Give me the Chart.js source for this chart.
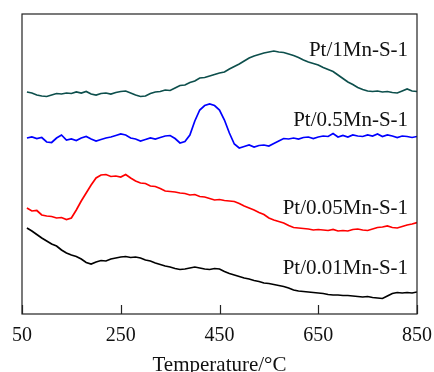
<!DOCTYPE html>
<html>
<head>
<meta charset="utf-8">
<script src="https://cdn.jsdelivr.net/npm/chart.js@4.4.0/dist/chart.umd.min.js"></script>
<style>
    html, body { margin: 0; padding: 0; background: #fff; }
    #wrap { width: 434px; height: 372px; }
</style>
</head>
<body>
<div id="wrap"><canvas id="tprChart" width="434" height="372"></canvas></div>
<script>
const temps = [60, 70, 80, 90, 100, 110, 120, 130, 140, 150, 160, 170, 180, 190, 200, 210, 220, 230, 240, 250,
    260, 270, 280, 290, 300, 310, 320, 330, 340, 350, 360, 370, 380, 390, 400, 410, 420, 430, 440, 450,
    460, 470, 480, 490, 500, 510, 520, 530, 540, 550, 560, 570, 580, 590, 600, 610, 620, 630, 640, 650,
    660, 670, 680, 690, 700, 710, 720, 730, 740, 750, 760, 770, 780, 790, 800, 810, 820, 830, 840, 850];

const xTicks = [50, 250, 450, 650, 850];

const labels = ['Pt/1Mn-S-1', 'Pt/0.5Mn-S-1', 'Pt/0.05Mn-S-1', 'Pt/0.01Mn-S-1'];

// signal in arbitrary units (offset curves)
const mn1 = [222, 221, 219, 218, 217.5, 219, 220.5, 220, 221, 220.5, 222, 221, 222.5, 220, 219, 220.5, 221, 220, 221.5, 222.5,
    223, 221, 219, 217.5, 218, 220.5, 222, 222.5, 224, 223.5, 226, 228.5, 229, 231.5, 233, 236, 236.5, 238, 239.5, 241,
    242, 245, 247.5, 250, 253, 256, 258, 259.5, 261, 262, 263, 262, 261.5, 260, 258.5, 256.5, 254, 252, 250.5, 249,
    246.5, 244.5, 242.5, 239, 235.5, 232, 229.5, 226.5, 224.5, 223, 222.5, 223, 222, 222.5, 221.5, 221, 223, 225, 223, 222.5];

const mn05 = [176, 177, 175.5, 176.5, 172, 171.5, 176, 179, 174, 175, 173.5, 176, 177.5, 175, 173, 174.5, 176, 177, 178.5, 180,
    179, 176, 175, 173, 174.5, 176, 175, 176.5, 178, 178.5, 175.5, 171, 172.5, 179, 193, 204, 208.5, 210, 208.5, 204,
    194, 181, 170, 166, 167.5, 169, 167, 168.5, 169, 168, 170.5, 173, 175.5, 175, 176, 175, 176.5, 177, 175.5, 177,
    178, 177.5, 180.5, 177, 178.5, 177, 179, 178, 177.5, 179, 178, 180, 177.5, 179, 178, 176.5, 178, 177.5, 176.5, 177.5];

const mn005 = [106, 103, 103.5, 99, 98, 97.5, 96, 96.5, 94.5, 96, 104, 113, 121, 129, 136, 139, 139.5, 137.5, 138, 137,
    139.5, 136, 133, 131, 130.5, 128, 127.5, 125.5, 123, 122.5, 122, 121, 120.5, 119, 119.5, 117.5, 117, 115.5, 114, 114.5,
    113.5, 113, 112.5, 110.5, 108, 106, 104, 101.5, 99.5, 96, 94, 92.5, 91, 88.5, 86.5, 86, 85.5, 85, 84, 84.5,
    84, 83.5, 84.5, 83, 83.5, 83, 84.5, 85, 84, 83.5, 85, 86.5, 87, 88, 86.5, 86, 87.5, 89, 90, 91.5];

const mn001 = [86, 83, 79.5, 76, 73, 70, 68, 64, 61, 59, 57.5, 55, 51.5, 50, 52, 53.5, 53, 55, 56, 57,
    57.5, 56.5, 57, 56, 54, 53, 51, 49.5, 48, 47, 45.5, 44.5, 45, 46, 47, 46, 45, 44.5, 45.5, 45,
    42.5, 40.5, 39, 37.5, 36, 35, 33.5, 32.5, 31, 30.5, 29.5, 28.5, 27.5, 26, 24, 23, 22.5, 22, 21.5, 21,
    20.5, 19.5, 19, 19, 18.5, 18.5, 18, 17.5, 17, 17.5, 16.5, 16, 15.5, 18, 20.5, 21.5, 21, 21.5, 21, 22];

const colors = ['#0d4f4c', '#0000ff', '#ff0000', '#000000'];
const labelY = [264, 194, 106, 46];

const serif = "'Liberation Serif', 'Times New Roman', serif";

function toPoints(values) {
    return temps.map((t, i) => ({ x: t, y: values[i] }));
}

// frame, inward ticks and curve labels
const framePlugin = {
    id: 'frame',
    afterDraw(chart) {
        const { ctx, chartArea: a, scales } = chart;
        ctx.save();
        ctx.strokeStyle = '#222';
        ctx.lineWidth = 1.2;
        ctx.strokeRect(a.left, a.top, a.right - a.left, a.bottom - a.top);
        ctx.beginPath();
        xTicks.forEach(v => {
            const px = Math.round(scales.x.getPixelForValue(v)) + 0.5;
            ctx.moveTo(px, a.bottom);
            ctx.lineTo(px, a.bottom - 9);
        });
        ctx.stroke();

        ctx.fillStyle = '#111';
        ctx.font = '21px ' + serif;
        ctx.textAlign = 'right';
        ctx.textBaseline = 'middle';
        labels.forEach((txt, i) => {
            ctx.fillText(txt, scales.x.getPixelForValue(832), scales.y.getPixelForValue(labelY[i]));
        });
        ctx.restore();
    }
};

new Chart(document.getElementById('tprChart'), {
    type: 'line',
    data: {
        datasets: [mn1, mn05, mn005, mn001].map((vals, i) => ({
            label: labels[i],
            data: toPoints(vals),
            borderColor: colors[i],
            borderWidth: 1.7,
            pointRadius: 0,
            tension: 0,
            fill: false
        }))
    },
    options: {
        responsive: false,
        animation: false,
        layout: { padding: { left: 22, right: 17, top: 14, bottom: 0 } },
        plugins: {
            legend: { display: false },
            tooltip: { enabled: false }
        },
        scales: {
            x: {
                type: 'linear',
                min: 50,
                max: 850,
                afterBuildTicks: scale => { scale.ticks = xTicks.map(v => ({ value: v })); },
                afterFit: scale => {
                    scale.height = 58;
                    scale.paddingLeft = 0;
                    scale.paddingRight = 0;
                },
                grid: { display: false },
                border: { display: false },
                ticks: {
                    color: '#111',
                    padding: 2,
                    maxRotation: 0,
                    font: { family: serif, size: 20 }
                },
                title: {
                    display: true,
                    text: 'Temperature/°C',
                    color: '#111',
                    padding: { top: 0, bottom: 0 },
                    font: { family: serif, size: 21, lineHeight: 0.6 }
                }
            },
            y: {
                display: false,
                min: 0,
                max: 300
            }
        }
    },
    plugins: [framePlugin]
});
</script>
</body>
</html>
